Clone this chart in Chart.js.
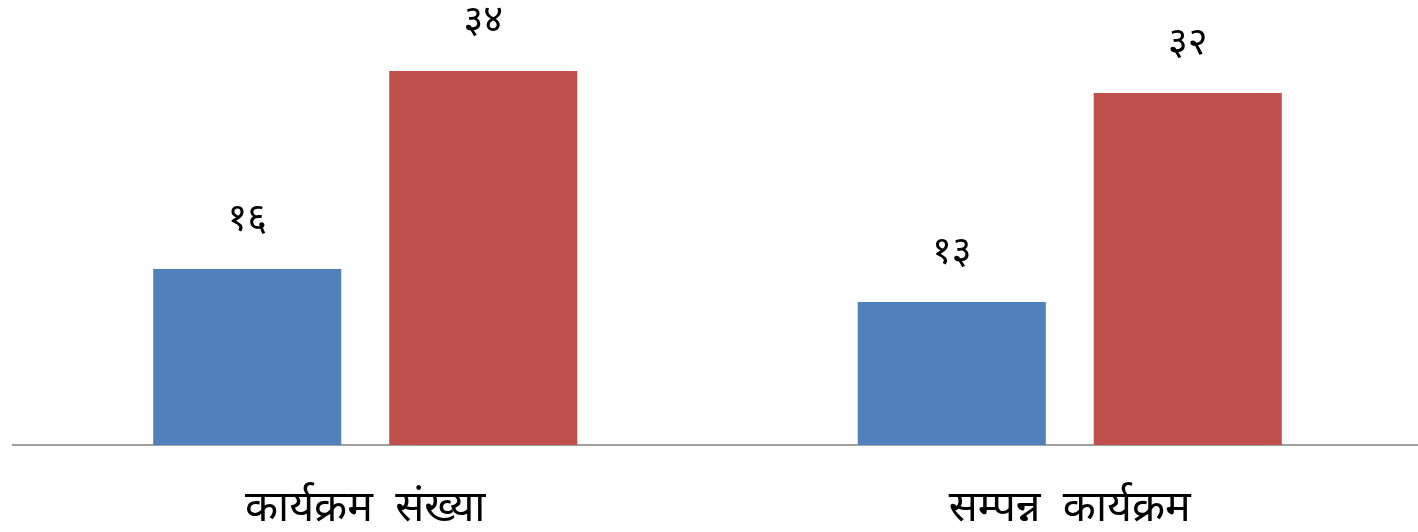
<!DOCTYPE html>
<html>
<head>
<meta charset="utf-8">
<script src="https://cdn.jsdelivr.net/npm/chart.js@4"></script>
<style>
  html, body { margin: 0; padding: 0; background: #fff; overflow: hidden; }
  #wrap { width: 1418px; height: 532px; overflow: hidden; position: relative; }
  #c { display: block; }
</style>
</head>
<body>
<div id="wrap"><canvas id="c" width="1422" height="532"></canvas></div>
<script>
const categories = ['कार्यक्रम  संख्या', 'सम्पन्न  कार्यक्रम'];
const seriesBlue = [16, 13];
const seriesRed = [34, 32];
const seriesNames = ['Series 1', 'Series 2'];
const yMax = 40;

const devDigits = '०१२३४५६७८९';
function toDev(n) { return String(n).replace(/[0-9]/g, d => devDigits[+d]); }

const FONT = "'Noto Sans', 'Noto Sans Devanagari', 'Lohit Devanagari', sans-serif";

const valueLabels = {
  id: 'valueLabels',
  afterDatasetsDraw(chart) {
    const ctx = chart.ctx;
    ctx.save();
    ctx.font = "38px " + FONT;
    ctx.fillStyle = '#000';
    ctx.textAlign = 'center';
    ctx.textBaseline = 'middle';
    chart.data.datasets.forEach((ds, i) => {
      chart.getDatasetMeta(i).data.forEach((bar, j) => {
        ctx.fillText(toDev(ds.data[j]), bar.x, bar.y - 50);
      });
    });
    ctx.restore();
  }
};

new Chart(document.getElementById('c'), {
  type: 'bar',
  data: {
    labels: categories,
    datasets: [
      { label: seriesNames[0], data: seriesBlue, backgroundColor: '#4F81BD', categoryPercentage: 0.67, barPercentage: 0.797 },
      { label: seriesNames[1], data: seriesRed, backgroundColor: '#C0504D', categoryPercentage: 0.67, barPercentage: 0.797 }
    ]
  },
  options: {
    responsive: false,
    animation: false,
    layout: { padding: { left: 13, right: 0, top: 5, bottom: 0 } },
    plugins: { legend: { display: false }, tooltip: { enabled: false } },
    scales: {
      x: {
        grid: { display: false, drawTicks: false },
        border: { display: true, color: '#A0A0A0', width: 2 },
        ticks: { color: '#000', font: { family: FONT, size: 43 }, padding: 38, maxRotation: 0, autoSkip: false },
        afterFit(scale) { scale.height = 87; }
      },
      y: {
        display: false,
        min: 0, max: yMax,
        afterFit(scale) { scale.width = 0; }
      }
    }
  },
  plugins: [valueLabels]
});
</script>
</body>
</html>
